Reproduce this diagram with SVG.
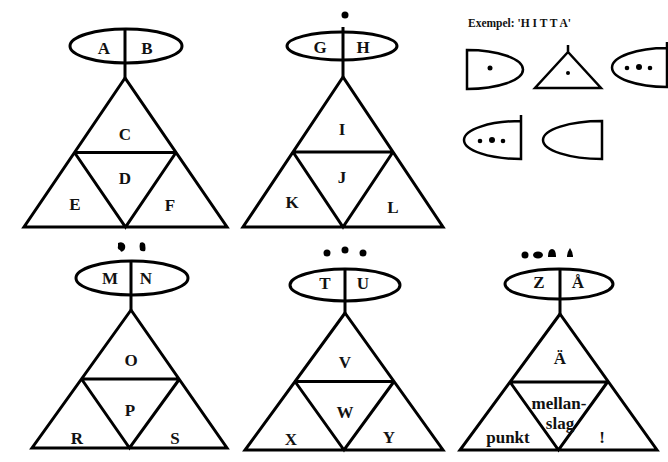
<svg xmlns="http://www.w3.org/2000/svg" width="668" height="462" viewBox="0 0 668 462">
<style>
.s{fill:none;stroke:#000;stroke-width:3;stroke-linejoin:miter;stroke-linecap:butt}
.e{fill:none;stroke:#000;stroke-width:2.5}
.t{font-weight:bold;font-size:17px;text-anchor:middle;fill:#111}
.h{font-weight:bold;font-size:11.5px;fill:#111}
.d{fill:#000;stroke:none}
</style>
<rect width="668" height="462" fill="#fff"/>

<g id="connectors">
<line class="s" x1="125" y1="63" x2="125" y2="78"/>
<line class="s" x1="343" y1="60" x2="343" y2="77"/>
<line class="s" x1="131" y1="295" x2="131" y2="310"/>
<line class="s" x1="345" y1="300" x2="345" y2="313"/>
<line class="s" x1="560" y1="299" x2="560" y2="314"/>
</g>

<g font-family="'Liberation Serif', 'DejaVu Serif', serif">
<g id="unit-ABCDEF">
<ellipse class="s" cx="126" cy="46" rx="56" ry="17"/>
<line class="s" x1="125" y1="29" x2="125" y2="63"/>
<path class="s" d="M125,78 L24,227 L227,227 Z M74.5,152.5 L176,152.5 M74.5,152.5 L125.5,227 L176,152.5"/>
<text class="t" x="104" y="53.5">A</text>
<text class="t" x="147" y="53.5">B</text>
<text class="t" x="125" y="139.5">C</text>
<text class="t" x="125" y="183.5">D</text>
<text class="t" x="75" y="209.5">E</text>
<text class="t" x="170" y="210.5">F</text>
</g>

<g id="unit-GHIJKL">
<circle class="d" cx="345" cy="15" r="3.5"/>
<ellipse class="s" cx="342" cy="46" rx="55" ry="14"/>
<line class="s" x1="343" y1="27" x2="343" y2="60"/>
<path class="s" d="M343,77 L243,227 L443,227 Z M293,152 L393,152 M293,152 L343,227 L393,152"/>
<text class="t" x="320" y="52.5">G</text>
<text class="t" x="363" y="52.5">H</text>
<text class="t" x="342" y="134.5">I</text>
<text class="t" x="342" y="182.5">J</text>
<text class="t" x="292" y="207.5">K</text>
<text class="t" x="393" y="212.5">L</text>
</g>

<g id="unit-MNOPRS">
<path class="d" d="M118,243 Q123,241 125,245 Q126,249 123,251 Q121,253 120,250 Q117,249 118,246 Z"/>
<path class="d" d="M140,243 Q143,241 145,244 Q146,249 145,251 Q142,252 140,250 Q139,246 140,243 Z"/>
<ellipse class="s" cx="132" cy="278" rx="56" ry="17"/>
<line class="s" x1="131" y1="261" x2="131" y2="295"/>
<path class="s" d="M131,310 L32,448 L227,448 Z M81.5,379 L179.5,379 M81.5,379 L129.5,448 L179.5,379"/>
<text class="t" x="110" y="283.5">M</text>
<text class="t" x="146" y="283.5">N</text>
<text class="t" x="131" y="365.5">O</text>
<text class="t" x="130" y="415.5">P</text>
<text class="t" x="77" y="443.5">R</text>
<text class="t" x="175" y="443.5">S</text>
</g>

<g id="unit-TUVWXY">
<circle class="d" cx="327" cy="253" r="3.5"/>
<circle class="d" cx="345" cy="250" r="3.5"/>
<circle class="d" cx="363" cy="253" r="3.5"/>
<ellipse class="s" cx="345" cy="285" rx="55" ry="16"/>
<line class="s" x1="345" y1="269" x2="345" y2="300"/>
<path class="s" d="M345,313 L245,450 L443,450 Z M295,381.5 L394,381.5 M295,381.5 L344,450 L394,381.5"/>
<text class="t" x="325" y="288.5">T</text>
<text class="t" x="363" y="288.5">U</text>
<text class="t" x="345" y="367.5">V</text>
<text class="t" x="345" y="417.5">W</text>
<text class="t" x="291" y="444.5">X</text>
<text class="t" x="389" y="442.5">Y</text>
</g>

<g id="unit-ZAA">
<circle class="d" cx="525" cy="255" r="3.5"/>
<ellipse class="d" cx="538" cy="255" rx="5" ry="3.5"/>
<path class="d" d="M548,257 Q548,249 552,249 Q556,249 556,257 Z"/>
<path class="d" d="M567,257 Q567,252 570,248 Q573,252 573,257 Z"/>
<ellipse class="s" cx="559" cy="284" rx="54" ry="15"/>
<line class="s" x1="560" y1="269" x2="560" y2="299"/>
<path class="s" d="M560,314 L460,450 L657,450 Z M510,382 L607.5,382 M510,382 L558.5,450 L607.5,382"/>
<text class="t" x="539" y="287.5">Z</text>
<text class="t" x="578" y="287.5">Å</text>
<text class="t" x="560" y="363.5">Ä</text>
<text class="t" x="559" y="408.5">mellan-</text>
<text class="t" x="560" y="428.5">slag</text>
<text class="t" x="508" y="442.5">punkt</text>
<text class="t" x="602" y="442.5">!</text>
</g>

<g id="example">
<text class="h" x="468" y="27">Exempel: 'H I T T A'</text>
<path class="e" d="M467,50 A56,19.5 0 0 1 467,89 Z"/>
<circle class="d" cx="490" cy="68" r="2.5"/>
<path class="e" d="M568,52 L535,88 L601,88 Z M568,45 L568,52"/>
<circle class="d" cx="568" cy="73" r="2"/>
<path class="e" d="M667,48 A55,19.5 0 0 0 667,87 Z M667,42 L667,48"/>
<circle class="d" cx="627" cy="68" r="2.3"/>
<circle class="d" cx="639" cy="67" r="3"/>
<circle class="d" cx="650" cy="68" r="2.3"/>
<path class="e" d="M521,121 A57,19 0 0 0 521,159 Z M521,115 L521,121"/>
<circle class="d" cx="480" cy="141" r="2.3"/>
<circle class="d" cx="492" cy="140" r="3"/>
<circle class="d" cx="503" cy="141" r="2.3"/>
<path class="e" d="M602,121 A59,19 0 0 0 602,159 Z"/>
</g>
</g>
</svg>
